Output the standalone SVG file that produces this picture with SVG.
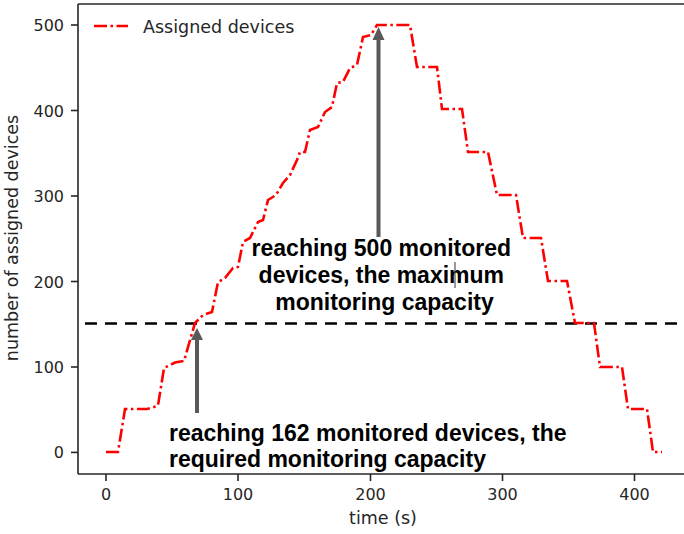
<svg xmlns="http://www.w3.org/2000/svg" width="684" height="534" viewBox="0 0 684 534">
  <style>
    .spine { stroke: #262626; stroke-width: 1.6; fill: none; }
    .tick { stroke: #262626; stroke-width: 1.6; }
    .ticklabel { font-family: "DejaVu Sans", sans-serif; font-size: 16px; fill: #262626; }
    .label { font-family: "DejaVu Sans", sans-serif; font-size: 17.5px; fill: #262626; }
    .series { fill: none; stroke: #ff0000; stroke-width: 2.6; stroke-dasharray: 13 3.5 2.5 3.5; stroke-linejoin: miter; }
    .threshold { stroke: #000000; stroke-width: 2.6; stroke-dasharray: 12 8; }
    .note { font-family: "Liberation Sans", Arial, sans-serif; font-size: 23px; font-weight: bold; fill: #000000; }
    .arrow { fill: #595959; stroke: none; }
  </style>

  <rect width="684" height="534" fill="#ffffff"/>

  <!-- axes frame -->
  <g id="axes">
    <line class="spine" x1="78" y1="4" x2="78" y2="474"/>
    <line class="spine" x1="78" y1="4" x2="684" y2="4"/>
    <line class="spine" x1="78" y1="474" x2="684" y2="474"/>

    <!-- y ticks -->
    <g id="yticks">
      <line class="tick" x1="71" y1="452.4" x2="78" y2="452.4"/>
      <line class="tick" x1="71" y1="367" x2="78" y2="367"/>
      <line class="tick" x1="71" y1="281.5" x2="78" y2="281.5"/>
      <line class="tick" x1="71" y1="196" x2="78" y2="196"/>
      <line class="tick" x1="71" y1="110.5" x2="78" y2="110.5"/>
      <line class="tick" x1="71" y1="25" x2="78" y2="25"/>
      <text class="ticklabel" x="64" y="458" text-anchor="end">0</text>
      <text class="ticklabel" x="64" y="373" text-anchor="end">100</text>
      <text class="ticklabel" x="64" y="287.5" text-anchor="end">200</text>
      <text class="ticklabel" x="64" y="202" text-anchor="end">300</text>
      <text class="ticklabel" x="64" y="116.5" text-anchor="end">400</text>
      <text class="ticklabel" x="64" y="31" text-anchor="end">500</text>
    </g>

    <!-- x ticks -->
    <g id="xticks">
      <line class="tick" x1="106" y1="474" x2="106" y2="481"/>
      <line class="tick" x1="238" y1="474" x2="238" y2="481"/>
      <line class="tick" x1="370.5" y1="474" x2="370.5" y2="481"/>
      <line class="tick" x1="502.5" y1="474" x2="502.5" y2="481"/>
      <line class="tick" x1="634.5" y1="474" x2="634.5" y2="481"/>
      <text class="ticklabel" x="106" y="500" text-anchor="middle">0</text>
      <text class="ticklabel" x="238" y="500" text-anchor="middle">100</text>
      <text class="ticklabel" x="370.5" y="500" text-anchor="middle">200</text>
      <text class="ticklabel" x="502.5" y="500" text-anchor="middle">300</text>
      <text class="ticklabel" x="634.5" y="500" text-anchor="middle">400</text>
    </g>

    <text class="label" x="383" y="524" text-anchor="middle">time (s)</text>
    <text class="label" transform="translate(18,238) rotate(-90)" text-anchor="middle">number of assigned devices</text>
  </g>

  <!-- threshold line -->
  <line id="threshold" class="threshold" x1="85" y1="323.5" x2="684" y2="323.5"/>

  <!-- assigned devices over time -->
  <polyline id="assigned" class="series" points="106,452 118,452 125,409 147,409 156,406.5 158,405.5 164,368 175,362.5 184,361 195,323 203,315 212,312 218,282 225,278 233,268 238,267 243,242 250,238 258,222 263,220 268,200 276,195 283,183 290,175 297,160 300,152 305,152 310,130 318,127 325,112 332,107 337,83 343,82 350,68 357,65 363,37 371,35 377,25 410,25 417,67 437,67 442,109 462,109 468,152 488,152 497,195 516,195 523,238 541,238 548,281 567,281 575,323 594,323 600,367 622,367 628,409 647,409 653,452 662,452"/>

  <!-- legend -->
  <g id="legend">
    <line class="series" x1="94" y1="26" x2="128" y2="26"/>
    <text class="label" x="143" y="32.5">Assigned devices</text>
  </g>

  <!-- annotation: maximum capacity -->
  <g id="note-max">
    <rect class="arrow" x="376.5" y="38" width="4" height="199"/>
    <polygon class="arrow" points="378.5,27 372.5,40 384.5,40"/>
    <text class="note" text-anchor="middle">
      <tspan x="384.5" y="256">reaching 500 monitored</tspan>
      <tspan x="384.5" y="283">devices, the maximum</tspan>
      <tspan x="384.5" y="310">monitoring capacity</tspan>
    </text>
    <line x1="455" y1="262" x2="455" y2="288" stroke="#333333" stroke-width="1"/>
  </g>

  <!-- annotation: required capacity -->
  <g id="note-required">
    <rect class="arrow" x="195" y="338" width="4" height="75"/>
    <polygon class="arrow" points="197,328 191,340 203,340"/>
    <text class="note">
      <tspan x="169" y="441">reaching 162 monitored devices, the</tspan>
      <tspan x="169" y="467">required monitoring capacity</tspan>
    </text>
  </g>
</svg>
